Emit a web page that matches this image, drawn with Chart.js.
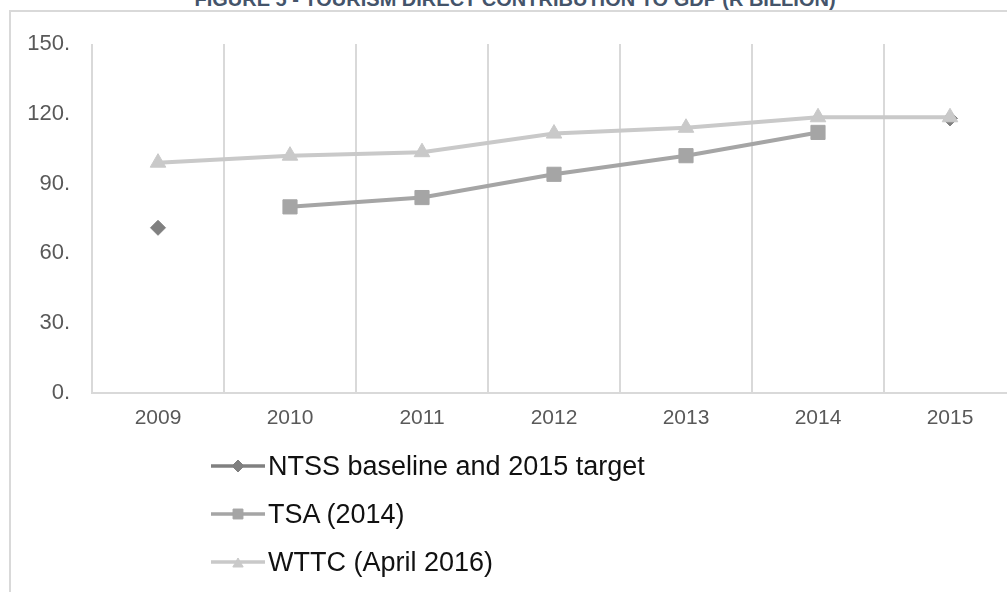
<!DOCTYPE html>
<html>
<head>
<meta charset="utf-8">
<script src="https://cdn.jsdelivr.net/npm/chart.js@4"></script>
<style>
  body { margin: 0; background: #fff; overflow: hidden; width: 1007px; height: 592px; position: relative; }
  #frame { position: absolute; left: 9px; top: 10px; width: 1100px; height: 700px; border: 2px solid #d9d9d9; }
  #title { position: absolute; left: 0; width: 1030px; top: -11px; text-align: center; font: bold 20px "Liberation Sans", Arial, sans-serif; line-height: 20px; color: #44546a; }
  #chart { position: absolute; left: 0; top: 0; }
  #legend { position: absolute; left: 210px; top: 442px; font: 27px "Liberation Sans", Arial, sans-serif; color: #111; }
  .row { height: 48px; display: flex; align-items: center; }
  .row canvas { margin-right: 2px; }
</style>
</head>
<body>
<div id="frame"></div>
<div id="title">FIGURE 5 - TOURISM DIRECT CONTRIBUTION TO GDP (R BILLION)</div>
<canvas id="chart" width="1040" height="440"></canvas>
<div id="legend"></div>
<script>
// categories and series
const years = ["2009", "2010", "2011", "2012", "2013", "2014", "2015"];
const ntss = [71, null, null, null, null, null, 118];
const tsa = [null, 80, 84, 94, 102, 112, null];
const wttc = [99, 102, 103.5, 111.5, 114, 118.5, 118.5];
const yTicks = [0, 30, 60, 90, 120, 150];

const names = ["NTSS baseline and 2015 target", "TSA (2014)", "WTTC (April 2016)"];
const colors = ["#808080", "#a5a5a5", "#c9c9c9"];
const shapes = ["rectRot", "rect", "triangle"];
const radii = [7.5, 10, 9];

const series = [ntss, tsa, wttc];

const ctx = document.getElementById("chart").getContext("2d");
const chart = new Chart(ctx, {
  type: "line",
  data: {
    labels: years,
    datasets: series.map((vals, i) => ({
      label: names[i],
      data: vals,
      borderColor: colors[i],
      backgroundColor: colors[i],
      borderWidth: 4,
      pointStyle: shapes[i],
      pointRadius: radii[i],
      pointBorderWidth: 1,
      pointBackgroundColor: colors[i],
      pointBorderColor: colors[i],
      spanGaps: false,
      tension: 0,
      order: 3 - i
    }))
  },
  options: {
    responsive: false,
    animation: false,
    layout: { padding: { left: 0, right: 24, top: 44, bottom: 0 } },
    plugins: {
      legend: { display: false },
      tooltip: { enabled: false }
    },
    scales: {
      x: {
        offset: true,
        grid: { display: true, offset: true, color: "#d9d9d9", lineWidth: 2, drawTicks: false },
        border: { display: true, color: "#d9d9d9", width: 2 },
        ticks: { color: "#595959", font: { family: "'Liberation Sans', Arial", size: 21 }, padding: 13, maxRotation: 0 },
        afterFit: s => { s.height = 47; }
      },
      y: {
        min: 0,
        max: 150,
        afterBuildTicks: s => { s.ticks = yTicks.map(v => ({ value: v })); },
        grid: { display: false, drawTicks: false },
        border: { display: false },
        ticks: {
          color: "#595959",
          font: { family: "'Liberation Sans', Arial", size: 22 },
          padding: 22,
          callback: v => v + "."
        },
        afterFit: s => { s.width = 92; }
      }
    }
  }
});

// html legend: line with marker, then label
function buildLegend(chart) {
  const box = document.getElementById("legend");
  box.innerHTML = "";
  chart.data.datasets.forEach((ds, i) => {
    const row = document.createElement("div");
    row.className = "row";
    const icon = document.createElement("canvas");
    icon.width = 56;
    icon.height = 20;
    const c = icon.getContext("2d");
    c.strokeStyle = ds.borderColor;
    c.fillStyle = ds.borderColor;
    c.lineWidth = 3.5;
    c.beginPath();
    c.moveTo(1, 10);
    c.lineTo(55, 10);
    c.stroke();
    c.lineWidth = 1;
    Chart.helpers.drawPoint(c, {
      pointStyle: ds.pointStyle,
      radius: ds.pointStyle === "rect" ? 7 : 6,
      borderWidth: 1,
      rotation: 0
    }, 28, ds.pointStyle === "triangle" ? 12 : 10);
    row.appendChild(icon);
    const txt = document.createElement("span");
    txt.textContent = ds.label;
    row.appendChild(txt);
    box.appendChild(row);
  });
}
buildLegend(chart);
</script>
</body>
</html>
